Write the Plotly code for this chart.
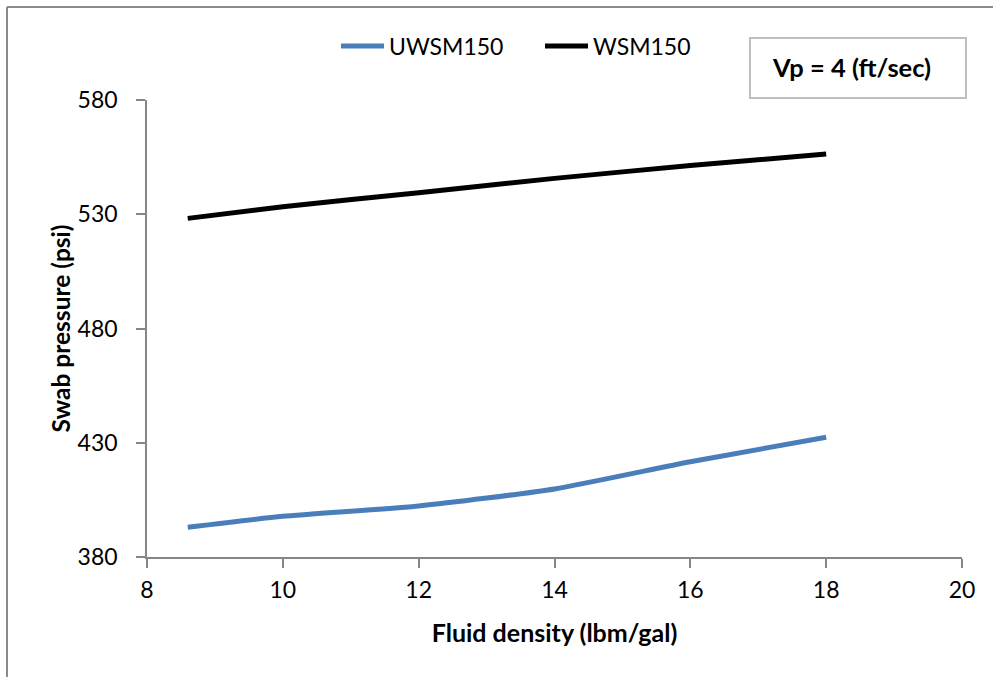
import plotly.graph_objects as go

# Data
fluid_density = [8.6, 10, 12, 14, 16, 18]
uwsm150 = [393.0, 397.8, 402.3, 409.8, 421.7, 432.4]
wsm150 = [528.2, 533.3, 539.4, 545.7, 551.3, 556.4]
series_names = ["UWSM150", "WSM150"]
x_ticks = [8, 10, 12, 14, 16, 18, 20]
y_ticks = [380, 430, 480, 530, 580]

FONT = "Lato, 'Open Sans', sans-serif"
AXIS_GRAY = "#868686"

fig = go.Figure()
fig.add_trace(go.Scatter(
    x=fluid_density, y=uwsm150, name=series_names[0], mode="lines",
    line=dict(color="#4A7EBB", width=5, shape="spline", smoothing=0.6),
))
fig.add_trace(go.Scatter(
    x=fluid_density, y=wsm150, name=series_names[1], mode="lines",
    line=dict(color="#000000", width=5, shape="spline", smoothing=0.6),
))

fig.update_layout(
    width=993, height=677,
    margin=dict(l=147, r=31, t=100, b=120),
    paper_bgcolor="white", plot_bgcolor="white",
    font=dict(family=FONT, size=23, color="#000000"),
    showlegend=True,
    legend=dict(
        orientation="h", x=(336 - 147) / 815, xanchor="left", y=(557 - 46) / 457, yanchor="middle",
        font=dict(family=FONT, size=23, color="#000000"),
        bgcolor="rgba(0,0,0,0)", itemwidth=43, entrywidth=146, tracegroupgap=0,
    ),
    xaxis=dict(
        range=[8, 20], tickvals=x_ticks, ticktext=[str(v) for v in x_ticks],
        showgrid=False, zeroline=False, showline=True, linecolor=AXIS_GRAY, linewidth=1.5,
        ticks="outside", ticklen=9, tickcolor=AXIS_GRAY, tickwidth=1.5,
        tickfont=dict(family=FONT, size=23), ticklabelstandoff=3,
        title=dict(text="<b>Fluid density (lbm/gal)</b>", font=dict(family=FONT, size=25), standoff=22),
    ),
    yaxis=dict(
        range=[380, 580], tickvals=y_ticks, ticktext=[str(v) for v in y_ticks],
        showgrid=False, zeroline=False, showline=True, linecolor=AXIS_GRAY, linewidth=1.5,
        ticks="outside", ticklen=9, tickcolor=AXIS_GRAY, tickwidth=1.5,
        tickfont=dict(family=FONT, size=23), ticklabelstandoff=14,
        title=dict(text="<b>Swab pressure (psi)</b>", font=dict(family=FONT, size=24.5), standoff=0),
    ),
    shapes=[
        # outer chart frame (partly outside the picture, like the reference)
        dict(type="line", xref="paper", yref="paper",
             x0=(7 - 147) / 815, x1=(1000 - 147) / 815,
             y0=(557 - 7) / 457, y1=(557 - 7) / 457,
             line=dict(color="#8A8A8A", width=2)),
        dict(type="line", xref="paper", yref="paper",
             x0=(7 - 147) / 815, x1=(7 - 147) / 815,
             y0=(557 - 7) / 457, y1=(557 - 700) / 457,
             line=dict(color="#8A8A8A", width=2)),
        # annotation box
        dict(type="rect", xref="paper", yref="paper",
             x0=(750 - 147) / 815, x1=(966 - 147) / 815,
             y0=(557 - 98) / 457, y1=(557 - 38) / 457,
             line=dict(color="#BFBFBF", width=2), fillcolor="white"),
    ],
    annotations=[
        dict(text="<b>Vp = 4 (ft/sec)</b>", xref="paper", yref="paper",
             x=(851.5 - 147) / 815, y=(557 - 67) / 457, xanchor="center", yanchor="middle",
             showarrow=False, font=dict(family=FONT, size=25.5, color="#000000")),
    ],
)

fig.write_html(
    "out.html",
    config={"displayModeBar": False},
    post_script="document.body.style.margin='0px'; document.body.style.overflow='hidden';",
)
